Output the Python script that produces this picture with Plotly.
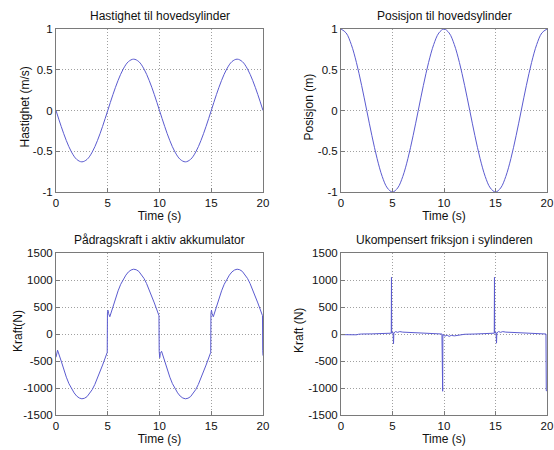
import plotly.graph_objects as go

# ---------------- data ----------------
t_half = [i * 0.5 for i in range(41)]  # 0 .. 20 s

velocity = [0.0, -0.195, -0.37, -0.51, -0.60, -0.63, -0.60, -0.51, -0.37, -0.195,
            0.0, 0.195, 0.37, 0.51, 0.60, 0.63, 0.60, 0.51, 0.37, 0.195,
            0.0, -0.195, -0.37, -0.51, -0.60, -0.63, -0.60, -0.51, -0.37, -0.195,
            0.0, 0.195, 0.37, 0.51, 0.60, 0.63, 0.60, 0.51, 0.37, 0.195, 0.0]

position = [1.0, 0.951, 0.809, 0.588, 0.309, 0.0, -0.309, -0.588, -0.809, -0.951,
            -1.0, -0.951, -0.809, -0.588, -0.309, 0.0, 0.309, 0.588, 0.809, 0.951,
            1.0, 0.951, 0.809, 0.588, 0.309, 0.0, -0.309, -0.588, -0.809, -0.951,
            -1.0, -0.951, -0.809, -0.588, -0.309, 0.0, 0.309, 0.588, 0.809, 0.951, 1.0]

force_t = [0, 0.15, 0.5, 0.75, 1, 1.25, 1.5, 1.75, 2, 2.25, 2.5, 2.75, 3, 3.25, 3.5, 3.75, 4, 4.25, 4.5, 4.75, 4.95,
           4.97, 5.02, 5.08, 5.2, 5.5, 5.75, 6, 6.25, 6.5, 6.75, 7, 7.25, 7.5, 7.75, 8, 8.25, 8.5, 8.75, 9, 9.25, 9.5, 9.75, 9.95,
           9.97, 10.02, 10.08, 10.2, 10.5, 10.75, 11, 11.25, 11.5, 11.75, 12, 12.25, 12.5, 12.75, 13, 13.25, 13.5, 13.75, 14, 14.25, 14.5, 14.75, 14.95,
           14.97, 15.02, 15.08, 15.2, 15.5, 15.75, 16, 16.25, 16.5, 16.75, 17, 17.25, 17.5, 17.75, 18, 18.25, 18.5, 18.75, 19, 19.25, 19.5, 19.75, 19.95,
           19.97, 20]
force = [-430, -300, -500, -660, -800, -920, -1015, -1090, -1150, -1185, -1200, -1190, -1160, -1105, -1030, -935, -825, -705, -575, -445, -340,
         380, 440, 380, 320, 500, 660, 800, 920, 1015, 1090, 1150, 1185, 1200, 1190, 1160, 1105, 1030, 935, 825, 705, 575, 445, 340,
         -320, -440, -360, -320, -500, -660, -800, -920, -1015, -1090, -1150, -1185, -1200, -1190, -1160, -1105, -1030, -935, -825, -705, -575, -445, -340,
         380, 440, 380, 320, 500, 660, 800, 920, 1015, 1090, 1150, 1185, 1200, 1190, 1160, 1105, 1030, 935, 825, 705, 575, 445, 340,
         -300, -400]

friction_t = [0, 0.5, 1, 1.5, 1.7, 2, 3, 4, 4.6, 4.88, 4.9, 4.92, 5.05, 5.1, 5.13, 5.3, 5.5, 5.7, 6, 6.5, 7, 8, 9,
              9.8, 9.87, 9.89, 10.1, 10.3, 10.5, 10.7, 11, 11.5, 12, 13, 14, 14.6, 14.88, 14.9, 14.92, 15.05, 15.1, 15.13,
              15.3, 15.5, 15.7, 16, 16.5, 17, 18, 19, 19.8, 19.9, 19.93, 20]
friction = [-12, -14, -15, -15, -5, 0, 2, 4, 6, 15, 1050, 20, 30, -180, 20, 45, 30, 45, 35, 30, 25, 15, 5,
            0, -1060, -10, -40, -20, -45, -25, -35, -15, -5, 0, 5, 10, 15, 1050, 20, 30, -170, 20,
            45, 30, 45, 35, 30, 25, 15, 5, 0, 0, -1050, -1050]

titles = ["Hastighet til hovedsylinder", "Posisjon til hovedsylinder",
          "Pådragskraft i aktiv akkumulator", "Ukompensert friksjon i sylinderen"]
ylabels = ["Hastighet (m/s)", "Posisjon (m)", "Kraft(N)", "Kraft (N)"]
xlabel = "Time (s)"
x_ticks = [0, 5, 10, 15, 20]
x_tick_labels = ["0", "5", "10", "15", "20"]
y_ticks_top = [-1, -0.5, 0, 0.5, 1]
y_tick_labels_top = ["-1", "-0.5", "0", "0.5", "1"]
y_ticks_bottom = [-1500, -1000, -500, 0, 500, 1000, 1500]
y_tick_labels_bottom = ["-1500", "-1000", "-500", "0", "500", "1000", "1500"]

# ---------------- figure ----------------
W, H = 554, 450
line_color = "#5b5bd0"
font_family = "Liberation Sans, Arial, sans-serif"
txt_color = "#111111"

xdoms = [(56 / W, 263 / W), (341 / W, 547 / W)]
ydoms = [(1 - 192 / H, 1 - 29 / H), (1 - 415 / H, 1 - 253 / H)]
ylabel_px = [25, 309, 18, 299]  # horizontal centre of each y-axis title

fig = go.Figure()

series = [(t_half, velocity, "spline"), (t_half, position, "spline"),
          (force_t, force, "linear"), (friction_t, friction, "linear")]

for i, (xs, ys, shape) in enumerate(series):
    ax = "" if i == 0 else str(i + 1)
    fig.add_trace(go.Scatter(x=xs, y=ys, mode="lines",
                             line=dict(color=line_color, width=1, shape=shape),
                             xaxis="x" + ax, yaxis="y" + ax, showlegend=False,
                             hoverinfo="skip", cliponaxis=True))

layout = dict(width=W, height=H, margin=dict(l=0, r=0, t=0, b=0, autoexpand=False),
              paper_bgcolor="white", plot_bgcolor="white",
              font=dict(family=font_family, size=12, color=txt_color),
              showlegend=False)

common = dict(showline=True, mirror=True, linecolor="#7a7a7a", linewidth=1,
              showgrid=True, gridcolor="#a0a0a0", griddash="1px,2px", gridwidth=1,
              zeroline=False, ticks="inside", ticklen=4, tickcolor="#7a7a7a",
              automargin=False,
              tickfont=dict(size=11.5, family=font_family, color=txt_color))

annotations = []
for i in range(4):
    col = i % 2
    row = i // 2
    ax = "" if i == 0 else str(i + 1)
    yt = y_ticks_top if row == 0 else y_ticks_bottom
    ytl = y_tick_labels_top if row == 0 else y_tick_labels_bottom
    yr = [-1, 1] if row == 0 else [-1500, 1500]
    layout["xaxis" + ax] = dict(common, domain=list(xdoms[col]), range=[0, 20],
                                tickvals=x_ticks, ticktext=x_tick_labels, anchor="y" + ax,
                                title=dict(text=xlabel, standoff=1,
                                           font=dict(size=12, family=font_family)))
    layout["yaxis" + ax] = dict(common, domain=list(ydoms[row]), range=yr,
                                tickvals=yt, ticktext=ytl, anchor="x" + ax)
    xc = (xdoms[col][0] + xdoms[col][1]) / 2
    ytop = ydoms[row][1]
    annotations.append(dict(text=titles[i], x=xc, y=ytop, xref="paper", yref="paper",
                            xanchor="center", yanchor="bottom", yshift=4, showarrow=False,
                            font=dict(size=12, family=font_family, color=txt_color)))
    annotations.append(dict(text=ylabels[i], x=ylabel_px[i] / W,
                            y=(ydoms[row][0] + ydoms[row][1]) / 2 + 3 / H,
                            xref="paper", yref="paper", xanchor="center", yanchor="middle",
                            textangle=-90, showarrow=False,
                            font=dict(size=12, family=font_family, color=txt_color)))

layout["annotations"] = annotations
fig.update_layout(**layout)
fig.write_html("out.html", config={"displayModeBar": False},
               post_script="document.body.style.margin='0';document.body.style.padding='0';")
